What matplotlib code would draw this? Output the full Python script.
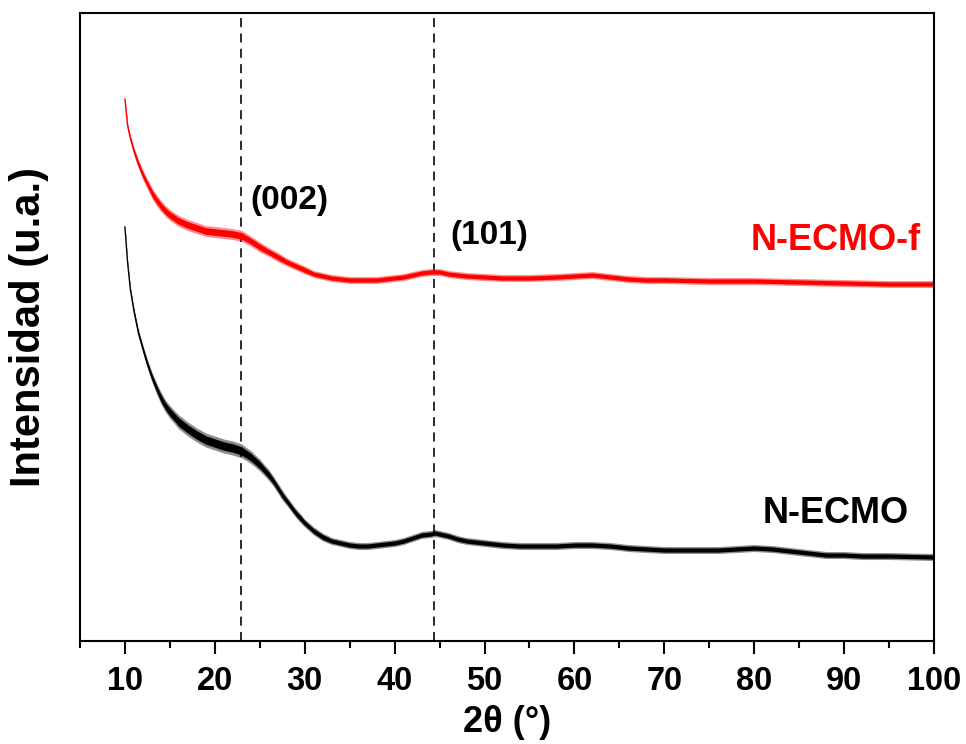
import numpy as np
import matplotlib.pyplot as plt
from matplotlib.ticker import MultipleLocator

# XRD patterns, intensities in arbitrary units
two_theta_necmo = [10.0, 10.3, 10.6, 11.0, 11.5, 12.0, 12.5, 13.0, 13.5, 14.0,
                   14.5, 15.0, 15.5, 16.0, 17.0, 18.0, 19.0, 20.0, 21.0, 22.0,
                   23.0, 23.5, 24.0, 24.5, 25.0, 25.5, 26.0, 26.5, 27.0, 27.5,
                   28.0, 28.5, 29.0, 29.5, 30.0, 31.0, 32.0, 33.0, 34.0, 35.0,
                   36.0, 37.0, 38.0, 39.0, 40.0, 41.0, 42.0, 43.0, 44.0, 44.5,
                   45.0, 46.0, 47.0, 48.0, 49.0, 50.0, 52.0, 54.0, 56.0, 58.0,
                   60.0, 62.0, 64.0, 66.0, 68.0, 70.0, 72.0, 74.0, 76.0, 78.0,
                   80.0, 82.0, 84.0, 86.0, 88.0, 90.0, 92.0, 95.0, 100.0]
int_necmo = [414, 378, 352, 330, 308, 292, 277, 264, 253, 243,
             235, 229, 224, 219, 212, 206, 201, 198, 195, 193,
             190, 187, 184, 180, 176, 171, 166, 160, 153, 146,
             140, 134, 128, 123, 118, 110, 104, 100, 98, 96,
             95, 95, 96, 97, 98, 100, 103, 106, 107, 108,
             107, 105, 102, 100, 99, 98, 96, 95, 95, 95,
             96, 96, 95, 93, 92, 91, 91, 91, 91, 92,
             93, 92, 90, 88, 86, 86, 85, 85, 84]
# peak-to-peak noise of the N-ECMO trace
spread_necmo = [2, 3, 4, 6, 7, 8, 9, 10, 11, 12,
                12, 13, 13, 14, 14, 14, 14, 14, 14, 14,
                14, 13, 13, 12, 12, 11, 11, 10, 10, 10,
                9, 9, 9, 9, 8, 8, 8, 7, 7, 7,
                7, 7, 7, 7, 7, 7, 7, 7, 7, 7,
                7, 7, 7, 7, 7, 7, 7, 7, 7, 7,
                7, 7, 7, 7, 7, 7, 7, 7, 7, 7,
                7, 7, 7, 7, 7, 7, 7, 7, 7]

two_theta_necmo_f = [10.0, 10.3, 10.6, 11.0, 11.5, 12.0, 12.5, 13.0, 13.5, 14.0,
                     14.5, 15.0, 16.0, 17.0, 18.0, 19.0, 20.0, 21.0, 22.0, 23.0,
                     24.0, 25.0, 26.0, 27.0, 28.0, 29.0, 30.0, 31.0, 32.0, 33.0,
                     34.0, 35.0, 36.0, 37.0, 38.0, 39.0, 40.0, 41.0, 42.0, 43.0,
                     44.0, 45.0, 46.0, 47.0, 48.0, 50.0, 52.0, 55.0, 58.0, 60.0,
                     62.0, 64.0, 66.0, 68.0, 70.0, 75.0, 80.0, 85.0, 90.0, 95.0,
                     100.0]
int_necmo_f = [542, 515, 503, 490, 477, 466, 457, 448, 441, 435,
               430, 426, 420, 416, 413, 410, 409, 408, 407, 405,
               400, 394, 389, 384, 379, 375, 371, 367, 365, 363,
               362, 361, 361, 361, 361, 362, 363, 364, 366, 368,
               369, 369, 367, 366, 365, 364, 363, 363, 364, 365,
               366, 364, 362, 361, 361, 360, 360, 359, 358, 357,
               357]
spread_necmo_f = [3, 5, 6, 8, 9, 10, 10, 11, 11, 11,
                  11, 11, 11, 11, 11, 11, 11, 11, 11, 11,
                  10, 10, 9, 9, 8, 8, 8, 7, 7, 7,
                  7, 7, 7, 7, 7, 7, 7, 7, 7, 7,
                  7, 7, 7, 7, 7, 7, 7, 7, 7, 7,
                  7, 7, 7, 7, 7, 7, 7, 7, 7, 7,
                  7]

peak_pos = [22.9, 44.4]
peak_labels = ["(002)", "(101)"]
peak_label_xy = [(24.0, 441), (46.2, 406)]

plt.rcParams['font.family'] = ['Liberation Sans', 'DejaVu Sans']
plt.rcParams['font.weight'] = 'bold'

fig = plt.figure(figsize=(9.66, 7.44), dpi=100)
ax = fig.add_axes([0.0828, 0.1384, 0.8841, 0.8441])


def draw_trace(x, y, spread, color):
    x = np.asarray(x)
    y = np.asarray(y, dtype=float)
    s = np.asarray(spread, dtype=float) / 2
    # light outer fringe, then the dense core of the noisy trace
    ax.fill_between(x, y - s, y + s, color=color, lw=0, alpha=0.45)
    ax.fill_between(x, y - 0.6 * s, y + 0.6 * s, color=color, lw=0)
    ax.plot(x, y, color=color, lw=1.0)


draw_trace(two_theta_necmo_f, int_necmo_f, spread_necmo_f, '#ff0000')
draw_trace(two_theta_necmo, int_necmo, spread_necmo, 'black')

for p in peak_pos:
    ax.axvline(p, color='#1a1a1a', lw=1.3, ls=(0, (5, 3.5)), zorder=0)

for lab, (px, py) in zip(peak_labels, peak_label_xy):
    ax.text(px, py, lab, fontsize=24, fontweight='bold', ha='left', va='center')

ax.text(98.5, 401, "N-ECMO-f", color='#ff0000', fontsize=26, fontweight='bold',
        ha='right', va='center')
ax.text(97.2, 128, "N-ECMO", color='black', fontsize=26, fontweight='bold',
        ha='right', va='center')

ax.set_xlim(5, 100)
ax.set_ylim(0, 628)
ax.xaxis.set_major_locator(MultipleLocator(10))
ax.xaxis.set_minor_locator(MultipleLocator(5))
ax.set_xticks(np.arange(10, 101, 10))
ax.set_yticks([])
ax.tick_params(axis='x', which='major', direction='out', length=9, width=1.5,
               labelsize=23.5, pad=9)
ax.tick_params(axis='x', which='minor', direction='out', length=5, width=1.5)
for lbl in ax.get_xticklabels():
    lbl.set_fontweight('bold')
for sp in ax.spines.values():
    sp.set_linewidth(1.5)

ax.set_xlabel("2θ (°)", fontsize=26, fontweight='bold', labelpad=6)
ax.set_ylabel("Intensidad (u.a.)", fontsize=30, fontweight='bold', labelpad=22)

fig.savefig("out.png", dpi=100)
